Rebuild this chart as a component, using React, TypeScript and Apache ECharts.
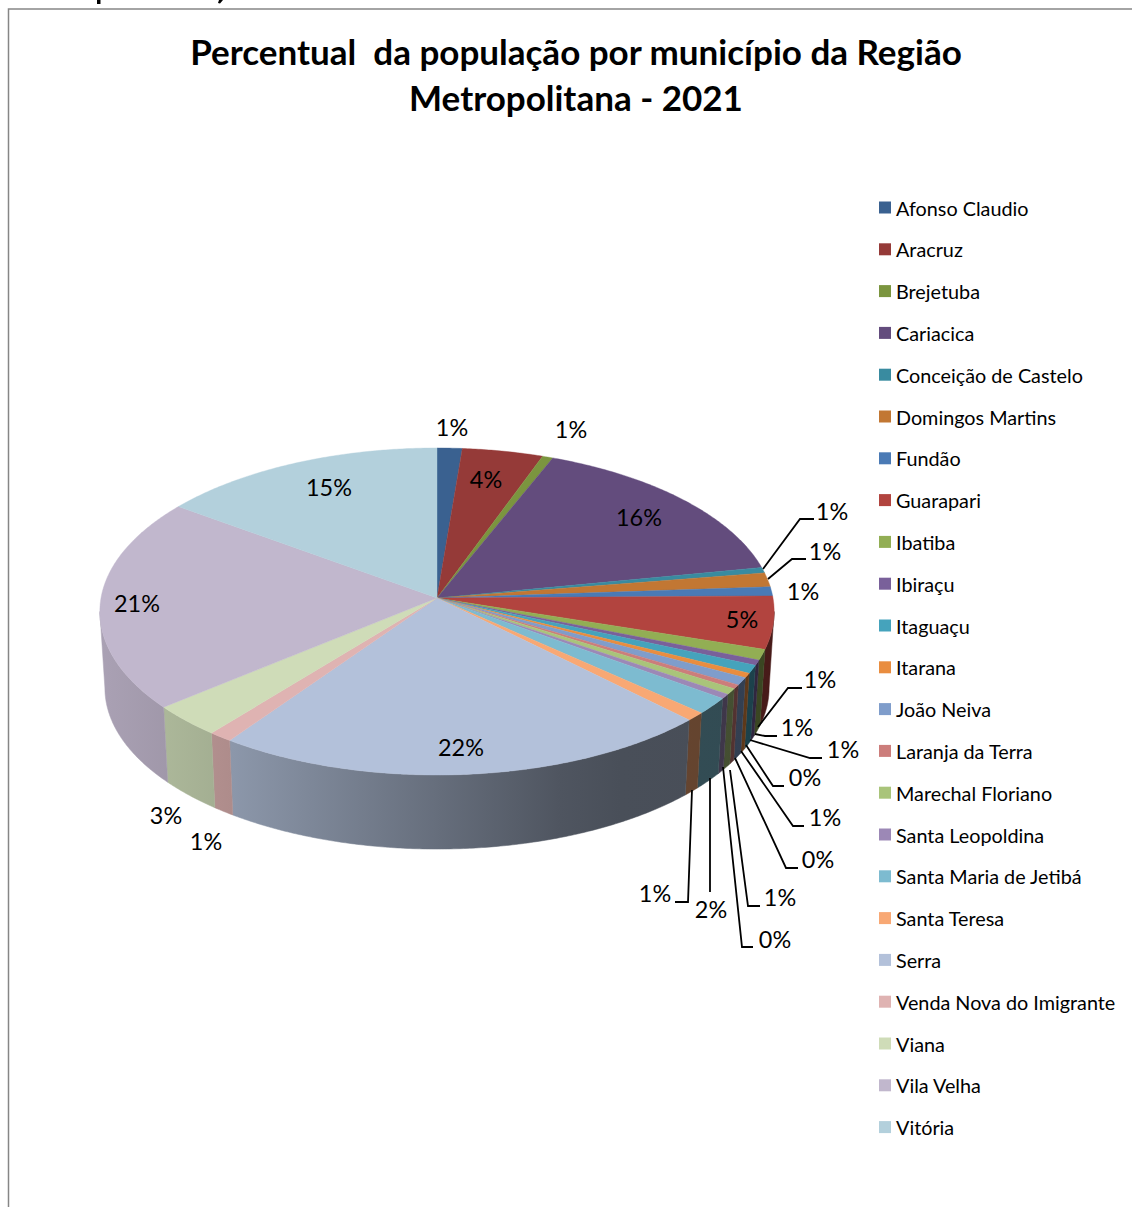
import React, { useEffect, useRef } from "react";
import * as echarts from "echarts";

// Municipalities of the Região Metropolitana, clockwise from twelve o'clock.
const municipios = [
  "Afonso Claudio", "Aracruz", "Brejetuba", "Cariacica", "Conceição de Castelo",
  "Domingos Martins", "Fundão", "Guarapari", "Ibatiba", "Ibiraçu", "Itaguaçu",
  "Itarana", "João Neiva", "Laranja da Terra", "Marechal Floriano", "Santa Leopoldina",
  "Santa Maria de Jetibá", "Santa Teresa", "Serra", "Venda Nova do Imigrante",
  "Viana", "Vila Velha", "Vitória",
];

// Share of the population, in percent.
const percentuais = [
  1.3, 4.2, 0.55, 15.9, 0.55, 1.4, 0.9, 5.2, 1.05, 0.52, 0.8, 0.45,
  0.75, 0.4, 0.6, 0.45, 1.65, 0.85, 22.25, 1.05, 3.2, 21.05, 14.95,
];

const cores = [
  "#3a6190", "#953a38", "#7b953f", "#634c7d", "#398ba0", "#c27733",
  "#4a7ab5", "#b2443f", "#92ae54", "#79609a", "#45a3bc", "#e98d3f",
  "#7f9dcb", "#cc7d7b", "#a9c47a", "#9c88b6", "#7dbbd0", "#f8a874",
  "#b3c1da", "#dfb3b2", "#cfdcb8", "#c1b7cd", "#b3d0dc",
];

// Where each percent label sits, and the bend points of its leader line if it has one.
const rotulos: { x: number; y: number; leader?: number[][] }[] = [
  { x: 452, y: 427 },
  { x: 486, y: 479 },
  { x: 571, y: 429 },
  { x: 639, y: 517 },
  { x: 832, y: 511, leader: [[763, 569], [800, 519], [814, 519]] },
  { x: 825, y: 551, leader: [[768, 579], [792, 559], [806, 559]] },
  { x: 803, y: 591 },
  { x: 742, y: 619 },
  { x: 820, y: 679, leader: [[758, 727], [788, 688], [802, 688]] },
  { x: 797, y: 727, leader: [[755, 734], [765, 736], [777, 736]] },
  { x: 843, y: 749, leader: [[750, 740], [810, 758], [822, 758]] },
  { x: 805, y: 777, leader: [[746, 745], [773, 786], [784, 786]] },
  { x: 825, y: 817, leader: [[741, 751], [793, 826], [804, 826]] },
  { x: 818, y: 859, leader: [[735, 758], [786, 868], [798, 868]] },
  { x: 780, y: 897, leader: [[730, 770], [748, 906], [760, 906]] },
  { x: 775, y: 939, leader: [[723, 767], [742, 947], [753, 947]] },
  { x: 711, y: 909, leader: [[710, 778], [710, 892]] },
  { x: 655, y: 893, leader: [[692, 790], [688, 902], [675, 902]] },
  { x: 461, y: 747 },
  { x: 206, y: 841 },
  { x: 166, y: 815 },
  { x: 137, y: 603 },
  { x: 329, y: 487 },
];

// Tilted disc: apex of the slices, radii, perspective strength and wall height.
const CX = 437;
const CY = 598;
const RX = 336;
const RY = 162.4;
const PERSP = 0.0826;
const BASE_SCALE = 0.985;
const BASE_DROP = 76.7;

const FONT = "Lato";
const total = percentuais.reduce((a, b) => a + b, 0);

const rimPoint = (a: number) => {
  const c = Math.cos(a);
  const w = 1 + PERSP * c;
  return [CX + (RX * Math.sin(a)) / w, CY - (RY * c) / w];
};
const basePoint = (p: number[]) => [
  CX + (p[0] - CX) * BASE_SCALE,
  CY + (p[1] - CY) * BASE_SCALE + BASE_DROP,
];

const hexToRgb = (h: string) => [1, 3, 5].map((i) => parseInt(h.slice(i, i + 2), 16));

// The side wall darkens from left to right: [x, brightness].
const wallLight = [
  [100, 0.88], [232, 0.78], [437, 0.57], [560, 0.44], [620, 0.41], [774, 0.4],
];
const wallFill = (hex: string) => {
  const rgb = hexToRgb(hex);
  const span = 774 - 100;
  return new echarts.graphic.LinearGradient(
    100, 0, 774, 0,
    wallLight.map(([x, f]) => ({
      offset: (x - 100) / span,
      color: `rgb(${rgb.map((v) => Math.round(v * f)).join(",")})`,
    })),
    true,
  );
};

const WALL_START = Math.PI - Math.acos(PERSP);
const WALL_END = 2 * Math.PI - WALL_START;
const STEP = Math.PI / 360;

const arc = (a0: number, a1: number) => {
  const n = Math.max(1, Math.ceil((a1 - a0) / STEP));
  const pts: number[][] = [];
  for (let i = 0; i <= n; i++) pts.push(rimPoint(a0 + ((a1 - a0) * i) / n));
  return pts;
};

const buildSeries = () => {
  let acc = 0;
  return municipios.map((name, idx) => {
    const start = acc;
    acc += percentuais[idx];
    const cor = cores[idx];
    const place = rotulos[idx];
    return {
      type: "custom",
      name,
      coordinateSystem: "none",
      itemStyle: { color: cor },
      silent: true,
      data: [{ name, value: [start, acc, percentuais[idx]] }],
      renderItem: (_p: unknown, api: any) => {
        const a0 = (api.value(0) / total) * 2 * Math.PI;
        const a1 = (api.value(1) / total) * 2 * Math.PI;
        const share = Math.round((api.value(2) / total) * 100);
        const rim = arc(a0, a1);
        const children: any[] = [];
        const wa0 = Math.max(a0, WALL_START);
        const wa1 = Math.min(a1, WALL_END);
        if (wa1 > wa0) {
          const upper = arc(wa0, wa1);
          const lower = upper.map(basePoint).reverse();
          const fill = wallFill(cor);
          children.push({
            type: "polygon",
            shape: { points: upper.concat(lower) },
            style: { fill, stroke: fill, lineWidth: 0.5 },
          });
        }
        children.push({
          type: "polygon",
          z2: 2,
          shape: { points: [[CX, CY], ...rim] },
          style: { fill: cor, stroke: cor, lineWidth: 0.4 },
        });
        if (place.leader) {
          children.push({
            type: "polyline",
            z2: 5,
            shape: { points: place.leader },
            style: { fill: "none", stroke: "#000", lineWidth: 1.8 },
          });
        }
        children.push({
          type: "text",
          z2: 6,
          style: {
            text: `${share}%`,
            x: place.x,
            y: place.y,
            align: "center",
            verticalAlign: "middle",
            fill: "#000",
            fontFamily: FONT,
            fontSize: 23.4,
          },
        });
        return { type: "group", children };
      },
    };
  });
};

export default function App() {
  const ref = useRef<HTMLDivElement>(null);
  useEffect(() => {
    document.body.style.margin = "0";
    document.body.style.overflow = "hidden";
    const chart = echarts.init(ref.current!, undefined, { renderer: "svg" });
    chart.setOption({
      animation: false,
      backgroundColor: "#fff",
      title: {
        text: "Percentual  da população por município da Região\nMetropolitana - 2021",
        left: 571,
        top: 23,
        textAlign: "center",
        textStyle: {
          fontFamily: FONT,
          fontWeight: "bold",
          fontSize: 35,
          lineHeight: 46,
          color: "#000",
        },
      },
      legend: {
        orient: "vertical",
        left: 879,
        top: 197.5,
        padding: 0,
        icon: "rect",
        itemWidth: 12,
        itemHeight: 12,
        itemGap: 21.8,
        selectedMode: false,
        data: municipios,
        textStyle: { fontFamily: FONT, fontSize: 19.8, color: "#000", lineHeight: 20 },
      },
      graphic: [
        {
          type: "polyline",
          silent: true,
          shape: { points: [[8.5, 1207], [8.5, 9], [1132, 9]] },
          style: { fill: "none", stroke: "#868686", lineWidth: 1.5 },
        },
        // Ends of the strokes from the page's heading, just above the chart frame.
        {
          type: "rect",
          silent: true,
          shape: { x: 97, y: 0, width: 3.5, height: 4 },
          style: { fill: "#000" },
        },
        {
          type: "polygon",
          silent: true,
          shape: { points: [[219, 0], [223, 0], [220, 3.5], [218, 3]] },
          style: { fill: "#000" },
        },
      ],
      series: buildSeries(),
    });
    return () => chart.dispose();
  }, []);
  return <div ref={ref} style={{ width: 1132, height: 1207 }} />;
}
